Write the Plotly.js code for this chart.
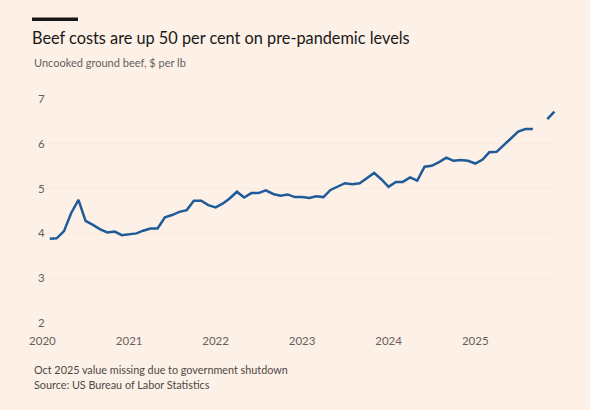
<!DOCTYPE html>
<html>
<head>
<meta charset="utf-8">
<script src="https://cdn.plot.ly/plotly-3.0.1.min.js"></script>
<style>
  html, body { margin: 0; padding: 0; background: #fdf0e6; }
  #chart { width: 590px; height: 410px; }
</style>
</head>
<body>
<div id="chart"></div>
<script>
// Uncooked ground beef, $ per lb (monthly, Feb 2020 – Dec 2025; Oct 2025 missing)
const firstYear = 2020;
const firstMonth = 2;
const price2020 = [3.88, 3.89, 4.05, 4.45, 4.75, 4.28, 4.19, 4.09, 4.02, 4.04, 3.96];
const price2021 = [3.98, 4.00, 4.06, 4.11, 4.11, 4.36, 4.41, 4.48, 4.52, 4.73, 4.73, 4.63];
const price2022 = [4.58, 4.67, 4.78, 4.93, 4.80, 4.90, 4.90, 4.96, 4.88, 4.84, 4.87, 4.81];
const price2023 = [4.81, 4.79, 4.83, 4.81, 4.97, 5.04, 5.12, 5.10, 5.12, 5.23, 5.35, 5.21];
const price2024 = [5.04, 5.15, 5.15, 5.25, 5.18, 5.49, 5.51, 5.59, 5.69, 5.62, 5.64, 5.62];
const price2025 = [5.56, 5.65, 5.81, 5.82, 5.97, 6.12, 6.27, 6.33, 6.33, null, 6.55, 6.72];

const yTicks = [2, 3, 4, 5, 6, 7];
const xTickYears = ['2020', '2021', '2022', '2023', '2024', '2025'];

const titleText = 'Beef costs are up 50 per cent on pre-pandemic levels';
const subtitleText = 'Uncooked ground beef, $ per lb';
const noteText = 'Oct 2025 value missing due to government shutdown';
const sourceText = 'Source: US Bureau of Labor Statistics';

const prices = [].concat(price2020, price2021, price2022, price2023, price2024, price2025);
const dates = prices.map((_, i) => {
  const m = firstMonth - 1 + i;
  const y = firstYear + Math.floor(m / 12);
  const mm = (m % 12) + 1;
  return y + '-' + String(mm).padStart(2, '0') + '-01';
});

const W = 590, H = 410;
const L = 37, R = 33, T = 99, B = 87;
const pw = W - L - R, ph = H - T - B;
const px = x => (x - L) / pw;
const py = y => (H - B - y) / ph;

const bg = '#fdf0e6';
const font = 'Lato, "Noto Sans", sans-serif';

const trace = {
  x: dates,
  y: prices,
  type: 'scatter',
  mode: 'lines',
  connectgaps: false,
  line: { color: '#1f5a99', width: 2.5 },
  hoverinfo: 'skip'
};

const layout = {
  width: W, height: H,
  paper_bgcolor: bg, plot_bgcolor: bg,
  margin: { l: L, r: R, t: T, b: B },
  showlegend: false,
  font: { family: font, color: '#66605c' },
  title: {
    text: titleText,
    font: { family: font, size: 16.3, color: '#1a1817' },
    x: 32 / W, xanchor: 'left', xref: 'container',
    y: 1 - 38 / H, yanchor: 'middle', yref: 'container'
  },
  xaxis: {
    type: 'date',
    range: ['2019-12-09', '2025-12-12'],
    tickvals: xTickYears.map(y => y + '-01-01'),
    ticktext: xTickYears,
    showgrid: false, zeroline: false, showline: false,
    ticks: '',
    ticklabelstandoff: 9,
    tickfont: { family: font, size: 11.5, color: '#66605c' },
    fixedrange: true
  },
  yaxis: {
    range: [2, 7],
    tickvals: yTicks,
    ticktext: yTicks.map(String),
    showgrid: true, gridcolor: '#f9ebe0', gridwidth: 1,
    zeroline: false, showline: false,
    ticks: '',
    ticklabelposition: 'inside',
    ticklabeloverflow: 'allow',
    ticklabelstandoff: -2,
    tickfont: { family: font, size: 11.5, color: '#66605c' },
    fixedrange: true
  },
  shapes: [{
    type: 'rect', xref: 'paper', yref: 'paper',
    x0: px(32), x1: px(78), y0: py(21), y1: py(17.5),
    fillcolor: '#1a1817', line: { width: 0 }
  }],
  annotations: [
    { text: subtitleText, xref: 'paper', yref: 'paper', x: px(32), y: py(62),
      xanchor: 'left', yanchor: 'middle', showarrow: false,
      font: { family: font, size: 11, color: '#66605c' } },
    { text: noteText, xref: 'paper', yref: 'paper', x: px(32), y: py(369),
      xanchor: 'left', yanchor: 'middle', showarrow: false,
      font: { family: font, size: 10.8, color: '#4d4845' } },
    { text: sourceText, xref: 'paper', yref: 'paper', x: px(32), y: py(384),
      xanchor: 'left', yanchor: 'middle', showarrow: false,
      font: { family: font, size: 10.8, color: '#4d4845' } }
  ]
};

Plotly.newPlot('chart', [trace], layout, { displayModeBar: false, staticPlot: true });
</script>
</body>
</html>
